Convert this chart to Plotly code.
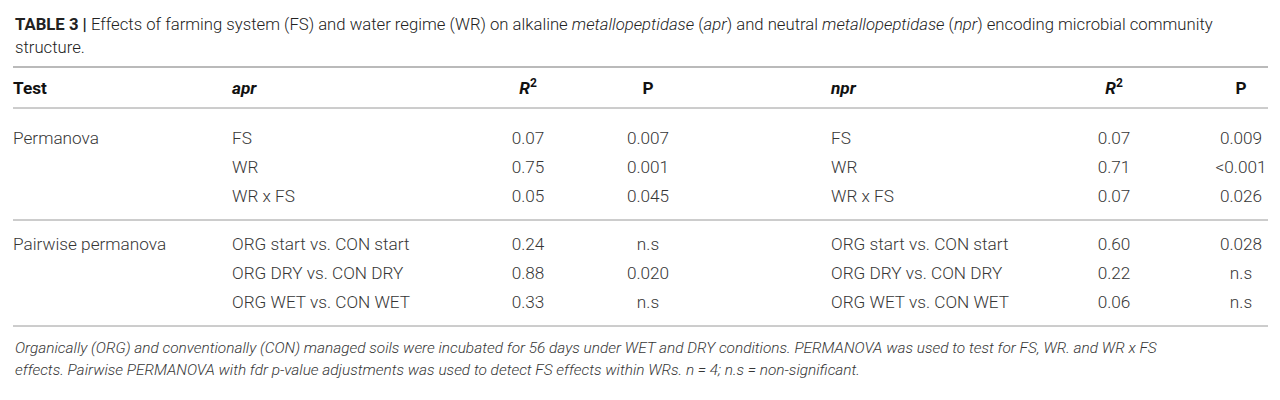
import plotly.graph_objects as go

# table content
title_lines = [
    "<b>TABLE 3 |</b> Effects of farming system (FS) and water regime (WR) on alkaline "
    "<i>metallopeptidase</i> (<i>apr</i>) and neutral <i>metallopeptidase</i> (<i>npr</i>) "
    "encoding microbial community",
    "structure.",
]
headers = ["Test", "<i>apr</i>", "<i>R</i><sup>2</sup>", "P", "<i>npr</i>", "<i>R</i><sup>2</sup>", "P"]

tests = ["Permanova", "", "", "Pairwise permanova", "", ""]
apr_terms = ["FS", "WR", "WR x FS", "ORG start vs. CON start", "ORG DRY vs. CON DRY", "ORG WET vs. CON WET"]
apr_r2 = ["0.07", "0.75", "0.05", "0.24", "0.88", "0.33"]
apr_p = ["0.007", "0.001", "0.045", "n.s", "0.020", "n.s"]
npr_terms = ["FS", "WR", "WR x FS", "ORG start vs. CON start", "ORG DRY vs. CON DRY", "ORG WET vs. CON WET"]
npr_r2 = ["0.07", "0.71", "0.07", "0.60", "0.22", "0.06"]
npr_p = ["0.009", "&lt;0.001", "0.026", "0.028", "n.s", "n.s"]

footnote_lines = [
    "Organically (ORG) and conventionally (CON) managed soils were incubated for 56 days under WET and DRY "
    "conditions. PERMANOVA was used to test for FS, WR. and WR x FS",
    "effects. Pairwise PERMANOVA with fdr p-value adjustments was used to detect FS effects within WRs. "
    "n = 4; n.s = non-significant.",
]

FONT = "Roboto, Arial, sans-serif"
TXT = "#363636"
FS = 17.2

# column x positions (page pixels) and alignment
col_x = [13, 232, 528, 648, 831, 1114, 1241]
col_pos = ["middle right", "middle right", "middle center", "middle center",
           "middle right", "middle center", "middle center"]

header_y = 90
row_y = [140, 169, 198, 246, 275, 304]
rules = [(67, "#777777", 1.2), (108, "#9a9a9a", 1), (220, "#9a9a9a", 1), (326, "#9a9a9a", 1)]

# page body has an 8px margin, so the plot area starts at (8, 8)
PAD = 8

fig = go.Figure()

columns = [tests, apr_terms, apr_r2, apr_p, npr_terms, npr_r2, npr_p]
for i, col in enumerate(columns):
    ys = [y for y, t in zip(row_y, col) if t]
    ts = [t for t in col if t]
    fig.add_trace(go.Scatter(
        x=[col_x[i]] * len(ts), y=ys, mode="text", text=ts,
        textposition=col_pos[i],
        textfont=dict(family=FONT, size=FS, color=TXT, weight=300),
        hoverinfo="skip", showlegend=False))

fig.add_trace(go.Scatter(
    x=col_x, y=[header_y] * len(headers), mode="text",
    text=["<b>%s</b>" % h for h in headers], textposition=col_pos,
    textfont=dict(family=FONT, size=FS, color="#111111"),
    hoverinfo="skip", showlegend=False))

for y, c, w in rules:
    fig.add_shape(type="line", xref="x", yref="y", x0=13, x1=1268, y0=y, y1=y,
                  line=dict(color=c, width=w))

for k, line in enumerate(title_lines):
    fig.add_annotation(x=13, y=24 + 23 * k, xref="x", yref="y", text=line, showarrow=False,
                       xanchor="left", yanchor="middle",
                       font=dict(family=FONT, size=16.7, color="#222222", weight=300))

for k, line in enumerate(footnote_lines):
    fig.add_annotation(x=13, y=348 + 22 * k, xref="x", yref="y", text="<i>%s</i>" % line,
                       showarrow=False, xanchor="left", yanchor="middle",
                       font=dict(family=FONT, size=15.4, color=TXT, weight=300))

fig.update_layout(
    width=1280 - PAD, height=400 - PAD, margin=dict(l=0, r=0, t=0, b=0),
    paper_bgcolor="white", plot_bgcolor="white",
    xaxis=dict(range=[PAD, 1280], visible=False, fixedrange=True),
    yaxis=dict(range=[400, PAD], visible=False, fixedrange=True),
)

fig.write_html("out.html")
